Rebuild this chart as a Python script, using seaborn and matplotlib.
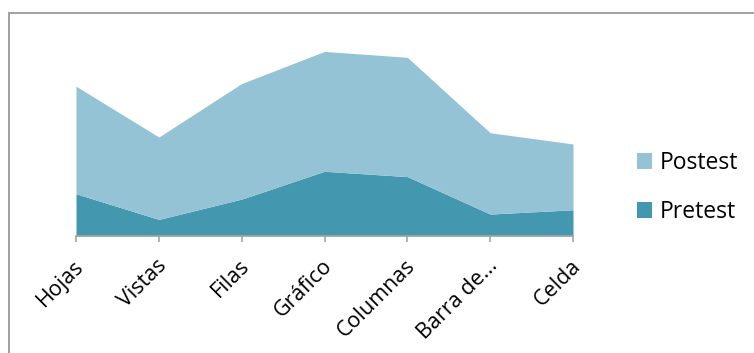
import matplotlib
matplotlib.use("Agg")
import matplotlib.pyplot as plt
from matplotlib.lines import Line2D
from matplotlib.transforms import ScaledTranslation
import seaborn as sns

# Data
categories = ["Hojas", "Vistas", "Filas", "Gráfico", "Columnas", "Barra de...", "Celda"]
pretest = [7.9, 3.1, 6.9, 12.1, 11.1, 4.1, 4.9]
postest = [20.1, 15.4, 21.6, 22.4, 22.3, 15.2, 12.3]

series_names = ["Pretest", "Postest"]
colors = {"Pretest": "#4398B0", "Postest": "#93C3D5"}
axis_gray = "#A6A6A6"

sns.set_theme(style="white")
plt.rcParams["font.family"] = ["Open Sans", "DejaVu Sans"]
plt.rcParams["text.color"] = "black"
plt.rcParams["xtick.color"] = "black"

fig = plt.figure(figsize=(7.54, 3.53), dpi=100)
ax = fig.add_axes([76 / 754, 117 / 353, 497 / 754, 214 / 353])

x = list(range(len(categories)))
polys = ax.stackplot(x, pretest, postest,
                     colors=[colors["Pretest"], colors["Postest"]],
                     labels=series_names, linewidth=0)

ax.set_xlim(0, len(categories) - 1)
ax.set_ylim(0, 40)
ax.set_yticks([])
ax.set_xticks(x)
ax.set_xticklabels(categories, rotation=45, ha="right",
                   rotation_mode="anchor", fontsize=15.5, color="black")
ax.tick_params(axis="x", direction="out", length=4.5, width=1.2,
               color=axis_gray, pad=6, bottom=True)

# Nudge the rotated category labels slightly down and to the left
nudge = ScaledTranslation(-3 / 100, -5 / 100, fig.dpi_scale_trans)
for lbl in ax.get_xticklabels():
    lbl.set_transform(lbl.get_transform() + nudge)

sns.despine(ax=ax, left=True, top=True, right=True)
ax.spines["bottom"].set_color(axis_gray)
ax.spines["bottom"].set_linewidth(1.2)
ax.patch.set_alpha(0)

# Legend, Postest listed first
handles = [polys[1], polys[0]]
labels = ["Postest", "Pretest"]
fig.legend(handles, labels, loc="center left",
           bbox_to_anchor=(636.7 / 754, (353 - 187.5) / 353),
           frameon=False, fontsize=16.5, handlelength=0.68, handleheight=0.68,
           handletextpad=0.33, labelspacing=1.12, borderpad=0, borderaxespad=0,
           labelcolor="black")

# Chart frame (top and left edges)
fig.add_artist(Line2D([8.5 / 754, 1.0], [1 - 12.5 / 353, 1 - 12.5 / 353],
                      transform=fig.transFigure, color="#A0A0A0", linewidth=1.4))
fig.add_artist(Line2D([8.5 / 754, 8.5 / 754], [0.0, 1 - 12.5 / 353],
                      transform=fig.transFigure, color="#A0A0A0", linewidth=1.4))

fig.savefig("out.png", dpi=100)
